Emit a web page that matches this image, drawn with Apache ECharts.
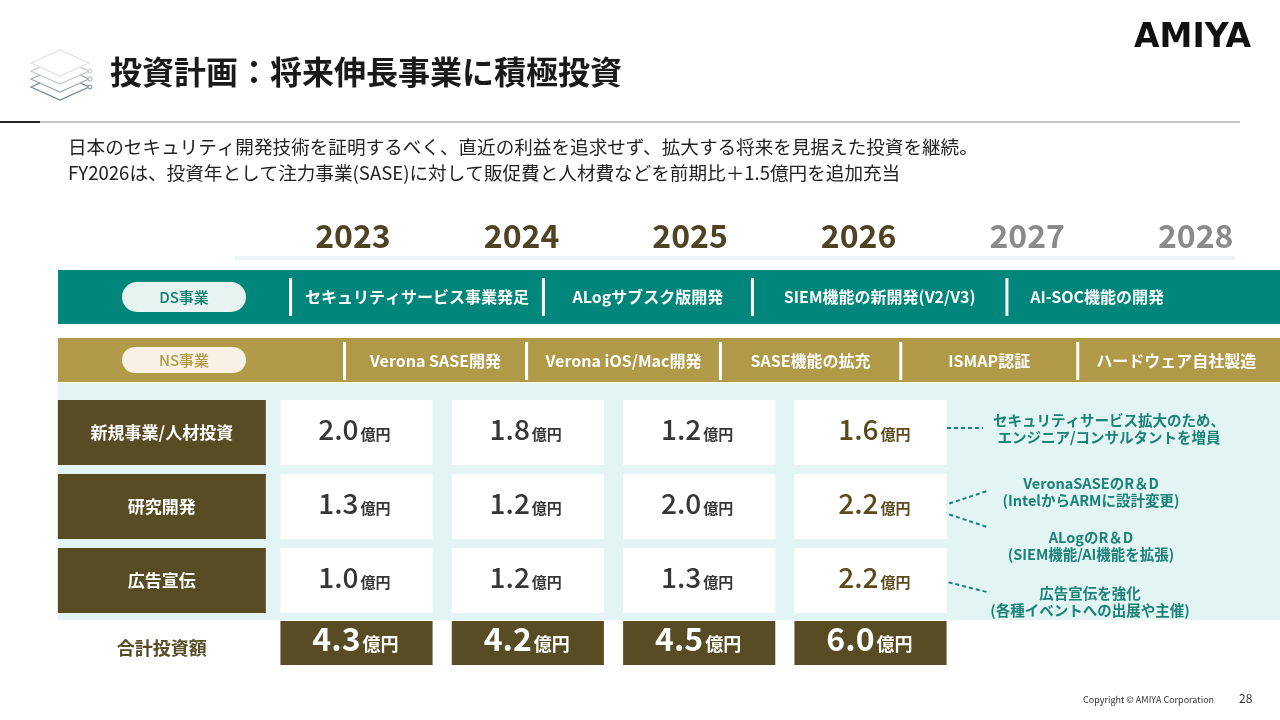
<!DOCTYPE html>
<html>
<head>
<meta charset="utf-8">
<script src="https://cdn.jsdelivr.net/npm/echarts@6.0.0/dist/echarts.min.js"></script>
<style>
  html, body { margin: 0; padding: 0; background: #fff; }
  #main { width: 1280px; height: 720px; }
</style>
</head>
<body>
<div id="main"></div>
<script>
// --- data ---
const years = ['2023', '2024', '2025', '2026', '2027', '2028'];
const planYear = '2026';
const costRows = ['新規事業/人材投資', '研究開発', '広告宣伝'];
const newBizInvest = [2.0, 1.8, 1.2, 1.6];
const rndInvest = [1.3, 1.2, 2.0, 2.2];
const adInvest = [1.0, 1.2, 1.3, 2.2];
const totalInvest = [4.3, 4.2, 4.5, 6.0];
const totalRow = ['合計投資額'];
const unit = '億円';

const segments = ['DS事業', 'NS事業'];
const dsMilestones = ['セキュリティサービス事業発足', 'ALogサブスク版開発', 'SIEM機能の新開発(V2/V3)', 'AI-SOC機能の開発'];
const dsStarts = [2022.63, 2024.13, 2025.37, 2026.88];
const dsEnd = 2027.95;
const nsMilestones = ['Verona SASE開発', 'Verona iOS/Mac開発', 'SASE機能の拡充', 'ISMAP認証', 'ハードウェア自社製造'];
const nsStarts = [2022.95, 2024.03, 2025.18, 2026.25, 2027.30];
const nsEnd = 2028.47;

const notes = [
  'セキュリティサービス拡大のため、\nエンジニア/コンサルタントを増員',
  'VeronaSASEのR＆D\n(IntelからARMに設計変更)',
  'ALogのR＆D\n(SIEM機能/AI機能を拡張)',
  '広告宣伝を強化\n(各種イベントへの出展や主催)'
];

// --- styling ---
const JP = '"Noto Sans CJK JP", sans-serif';
const TEAL = '#00867a';
const GOLD = '#b09a48';
const OLIVE = '#584c25';
const NOTE = '#1a8277';
const timeMin = 2021.25, timeMax = 2028.5;

const chart = echarts.init(document.getElementById('main'), null, { renderer: 'canvas' });

// build series data from the arrays
const bandData = segments.map(s => [timeMin, timeMax, s]);
const milestoneLabels = [];
const milestoneData = [];
dsStarts.forEach((s, i) => {
  milestoneData.push([s, i < dsStarts.length - 1 ? dsStarts[i + 1] : dsEnd, segments[0]]);
  milestoneLabels.push(dsMilestones[i]);
});
nsStarts.forEach((s, i) => {
  milestoneData.push([s, i < nsStarts.length - 1 ? nsStarts[i + 1] : nsEnd, segments[1]]);
  milestoneLabels.push(nsMilestones[i]);
});

const cellData = [];
[newBizInvest, rndInvest, adInvest].forEach((arr, r) => {
  arr.forEach((v, i) => cellData.push([years[i], costRows[r], v]));
});
const totalData = totalInvest.map((v, i) => [years[i], totalRow[0], v]);

function renderBand(params, api) {
  const a = api.coord([api.value(0), api.value(2)]);
  const b = api.coord([api.value(1), api.value(2)]);
  const row = api.value(2);
  const h = api.size([0, 1])[1] * (row === 0 ? 0.857 : 0.698);
  return {
    type: 'rect',
    shape: { x: a[0], y: a[1] - h / 2, width: b[0] - a[0], height: h },
    style: { fill: row === 0 ? TEAL : GOLD }
  };
}

function renderMilestone(params, api) {
  const a = api.coord([api.value(0), api.value(2)]);
  const b = api.coord([api.value(1), api.value(2)]);
  const row = api.value(2);
  const sh = 38;
  const yc = a[1] + (row === 0 ? 0 : 1);
  return {
    type: 'group',
    children: [
      { type: 'rect', shape: { x: a[0] - 1.5, y: yc - sh / 2, width: 3, height: sh }, style: { fill: '#ffffff' } },
      {
        type: 'text',
        style: {
          x: (a[0] + b[0]) / 2, y: yc,
          text: milestoneLabels[params.dataIndex],
          align: 'center', verticalAlign: 'middle',
          fill: '#ffffff', fontSize: 16, fontWeight: 'bold', fontFamily: JP
        }
      }
    ]
  };
}

// number + small unit, sharing a baseline
function amountText(cx, cy, v, color, numSize, numWeight, unitSize, split) {
  return [
    {
      type: 'text',
      style: {
        x: cx + split, y: cy + numSize * 0.38,
        text: v.toFixed(1), align: 'right', verticalAlign: 'bottom',
        fill: color, fontSize: numSize, fontWeight: numWeight, fontFamily: JP
      }
    },
    {
      type: 'text',
      style: {
        x: cx + split + 2, y: cy + numSize * 0.38 - (numSize - unitSize) * 0.12,
        text: unit, align: 'left', verticalAlign: 'bottom',
        fill: color, fontSize: unitSize, fontWeight: 'bold', fontFamily: JP
      }
    }
  ];
}

function renderCell(params, api) {
  const c = api.coord([api.value(0), api.value(1)]);
  const s = api.size([1, 1]);
  const w = s[0] * 0.888, h = s[1] * 0.878;
  const v = api.value(2);
  const isPlan = years[api.value(0)] === planYear;
  const color = isPlan ? '#5b4b1c' : '#363636';
  return {
    type: 'group',
    children: [
      { type: 'rect', shape: { x: c[0] - w / 2, y: c[1] - h / 2, width: w, height: h }, style: { fill: '#ffffff' } }
    ].concat(amountText(c[0], c[1], v, color, 28, 500, 15, isPlan ? 8 : 2))
  };
}

function renderTotal(params, api) {
  const c = api.coord([api.value(0), api.value(1)]);
  const s = api.size([1, 1]);
  const w = s[0] * 0.888, h = s[1];
  const v = api.value(2);
  return {
    type: 'group',
    children: [
      { type: 'rect', shape: { x: c[0] - w / 2, y: c[1] - h / 2, width: w, height: h }, style: { fill: OLIVE } }
    ].concat(amountText(c[0], c[1], v, '#ffffff', 32, 'bold', 18, 4))
  };
}

// title-icon layers
const layerColors = ['#6f8696', '#9aabb6', '#c2ccd3', '#dde3e7'];
const layerY = [87, 79, 71, 63];
const iconParts = [];
layerY.forEach((y, i) => {
  iconParts.push({
    type: 'polygon',
    shape: { points: [[31, y], [60, y - 13], [89, y], [60, y + 13]] },
    style: { fill: '#ffffff', stroke: layerColors[i], lineWidth: 1.3 }
  });
  if (i < 3) {
    iconParts.push({ type: 'circle', shape: { cx: 90, cy: y, r: 2 }, style: { fill: '#fff', stroke: layerColors[i], lineWidth: 1 } });
  }
});

const noteStyle = { fontSize: 14.5, lineHeight: 17, fontWeight: 'bold', fontFamily: JP, fill: NOTE, align: 'center', verticalAlign: 'middle' };
const dash = { stroke: NOTE, lineWidth: 2, lineDash: [4, 3] };

const option = {
  backgroundColor: '#ffffff',
  animation: false,
  textStyle: { fontFamily: JP },
  grid: [
    { left: 58, width: 1222, top: 265.5, height: 126, outerBoundsMode: 'none', containLabel: false },
    { left: 270.85, width: 1028, top: 395.5, height: 222, outerBoundsMode: 'none', containLabel: false },
    { left: 270.85, width: 1028, top: 621, height: 44, outerBoundsMode: 'none', containLabel: false }
  ],
  xAxis: [
    {
      gridIndex: 0, type: 'value', min: timeMin, max: timeMax, position: 'top', z: 10,
      axisLine: { show: false }, axisTick: { show: false }, splitLine: { show: false },
      axisLabel: {
        customValues: years.map(Number),
        margin: 14,
        formatter: v => (String(v) <= planYear ? '{a|' : '{b|') + v + '}',
        rich: {
          a: { fontFamily: JP, fontSize: 32, fontWeight: 'bold', color: '#4e4424' },
          b: { fontFamily: JP, fontSize: 32, fontWeight: 'bold', color: '#8a8a8a' }
        }
      }
    },
    { gridIndex: 1, type: 'category', data: years, show: false },
    { gridIndex: 2, type: 'category', data: years, show: false }
  ],
  yAxis: [
    {
      gridIndex: 0, type: 'category', data: segments, inverse: true, z: 10,
      axisLine: { show: false }, axisTick: { show: false }, splitLine: { show: false },
      axisLabel: {
        inside: true, margin: 64,
        formatter: v => (v === segments[0] ? '{ds|' : '{ns|') + v + '}',
        rich: {
          ds: { width: 124, height: 30, lineHeight: 30, align: 'center', borderRadius: 15, backgroundColor: '#e6f3f1', color: '#0b7d71', fontSize: 15, fontWeight: 500, fontFamily: JP },
          ns: { width: 124, height: 26, lineHeight: 26, align: 'center', borderRadius: 13, backgroundColor: '#f7f2e4', color: GOLD, fontSize: 15, fontWeight: 500, fontFamily: JP }
        }
      }
    },
    {
      gridIndex: 1, type: 'category', data: costRows, inverse: true, z: 10,
      axisLine: { show: false }, axisTick: { show: false }, splitLine: { show: false },
      axisLabel: {
        margin: 5,
        formatter: v => '{box|' + v + '}',
        rich: {
          box: { width: 208, height: 65, lineHeight: 65, align: 'center', backgroundColor: OLIVE, color: '#ffffff', fontSize: 17, fontWeight: 'bold', fontFamily: JP }
        }
      }
    },
    {
      gridIndex: 2, type: 'category', data: totalRow, z: 10,
      axisLine: { show: false }, axisTick: { show: false }, splitLine: { show: false },
      axisLabel: {
        margin: 5,
        formatter: v => '{t|' + v + '}',
        rich: {
          t: { width: 208, align: 'center', padding: [10, 0, 0, 0], color: OLIVE, fontSize: 18, fontWeight: 'bold', fontFamily: JP }
        }
      }
    }
  ],
  series: [
    { type: 'custom', name: 'segments', xAxisIndex: 0, yAxisIndex: 0, clip: false, z: 2, encode: { x: [0, 1], y: 2 }, data: bandData, renderItem: renderBand },
    { type: 'custom', name: 'milestones', xAxisIndex: 0, yAxisIndex: 0, clip: false, z: 3, encode: { x: [0, 1], y: 2 }, data: milestoneData, renderItem: renderMilestone },
    { type: 'custom', name: 'invest', xAxisIndex: 1, yAxisIndex: 1, clip: false, z: 3, encode: { x: 0, y: 1 }, data: cellData, renderItem: renderCell },
    { type: 'custom', name: 'total', xAxisIndex: 2, yAxisIndex: 2, clip: false, z: 3, encode: { x: 0, y: 1 }, data: totalData, renderItem: renderTotal }
  ],
  graphic: [
    // light background behind the cost table
    { type: 'rect', z: -10, shape: { x: 58, y: 383, width: 1222, height: 237 }, style: { fill: '#e2f4f3' } },
    // soft rule under the years
    { type: 'rect', z: -10, shape: { x: 235, y: 256, width: 1000, height: 4 }, style: { fill: '#edf6f6' } },
    { type: 'group', children: iconParts },
    { type: 'text', x: 110, y: 72, style: { text: '投資計画：将来伸長事業に積極投資', fontSize: 32, fontWeight: 'bold', fontFamily: JP, fill: '#1a1a1a', verticalAlign: 'middle' } },
    { type: 'text', x: 1134, y: 38, style: { text: 'AMIYA', fontSize: 33, fontWeight: 'bold', fontFamily: '"DejaVu Sans", sans-serif', fill: '#111', verticalAlign: 'middle' } },
    { type: 'rect', shape: { x: 0, y: 121, width: 40, height: 2 }, style: { fill: '#222' } },
    { type: 'rect', shape: { x: 40, y: 121, width: 1200, height: 2 }, style: { fill: '#c4c4c4' } },
    { type: 'text', x: 68, y: 147, style: { text: '日本のセキュリティ開発技術を証明するべく、直近の利益を追求せず、拡大する将来を見据えた投資を継続。', fontSize: 18.6, fontFamily: JP, fill: '#222', verticalAlign: 'middle' } },
    { type: 'text', x: 68, y: 173, style: { text: 'FY2026は、投資年として注力事業(SASE)に対して販促費と人材費などを前期比＋1.5億円を追加充当', fontSize: 18.6, fontFamily: JP, fill: '#222', verticalAlign: 'middle' } },
    // notes on the right
    { type: 'text', x: 1109, y: 429, style: Object.assign({ text: notes[0] }, noteStyle) },
    { type: 'text', x: 1091, y: 492, style: Object.assign({ text: notes[1] }, noteStyle) },
    { type: 'text', x: 1091, y: 546, style: Object.assign({ text: notes[2] }, noteStyle) },
    { type: 'text', x: 1090, y: 602, style: Object.assign({ text: notes[3] }, noteStyle) },
    { type: 'line', shape: { x1: 933, y1: 428, x2: 983, y2: 428 }, style: dash },
    { type: 'line', shape: { x1: 936, y1: 508, x2: 987, y2: 491 }, style: dash },
    { type: 'line', shape: { x1: 936, y1: 510, x2: 987, y2: 527 }, style: dash },
    { type: 'line', shape: { x1: 935, y1: 579, x2: 987, y2: 592 }, style: dash },
    // footer
    { type: 'text', x: 1083, y: 700, style: { text: 'Copyright © AMIYA Corporation', fontSize: 9, fontFamily: JP, fill: '#333', verticalAlign: 'middle' } },
    { type: 'text', x: 1239, y: 698, style: { text: '28', fontSize: 12, fontFamily: JP, fill: '#333', verticalAlign: 'middle' } }
  ]
};

chart.setOption(option);
</script>
</body>
</html>
